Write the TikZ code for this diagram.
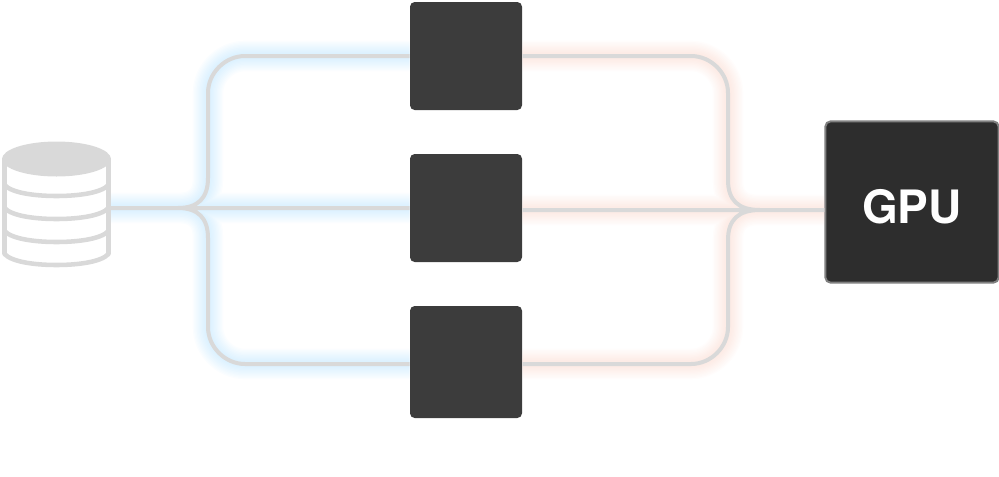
\documentclass[tikz,border=0pt]{standalone}
\usepackage{fontspec}
\setmainfont{TeX Gyre Heros}
\definecolor{linegrey}{HTML}{D9D9D9}
\definecolor{boxgrey}{HTML}{3C3C3C}
\definecolor{gpugrey}{HTML}{2D2D2D}
\definecolor{gpuedge}{HTML}{808080}
\definecolor{glowblue}{HTML}{8FD3FF}
\definecolor{glowred}{HTML}{F7B7A3}
\tikzset{
	workerbox/.style={fill=boxgrey,rounded corners=3.5pt,inner sep=0pt,minimum width=84pt},
	gpubox/.style={fill=gpugrey,draw=gpuedge,line width=1.5pt,rounded corners=4pt,inner sep=0pt,minimum width=130pt,minimum height=121pt},
	gputext/.style={text=white,font=\fontsize{34.5}{34.5}\selectfont\bfseries,inner sep=0pt},
	dbbox/.style={inner sep=0pt,minimum width=80pt,minimum height=92pt},
	wire/.style={draw=linegrey,line width=3pt},
	dbline/.style={draw=linegrey,line width=3.4pt,line join=round,line cap=round},
}
\newcommand{\leftwires}{(db.east) -- (mid.west)
	(178,208) .. controls (198,208) and (208,198) .. (208,178) -- (208,93) .. controls (208,73) and (225,56) .. (245,56) -- (top.west)
	(178,208) .. controls (198,208) and (208,218) .. (208,238) -- (208,327) .. controls (208,347) and (225,364) .. (245,364) -- (bot.west |- 0,364)}
\newcommand{\rightwires}{(mid.east |- 0,210) -- (gpu.west |- 0,210)
	(top.east) -- (691,56) .. controls (711,56) and (728,73) .. (728,93) -- (728,180) .. controls (728,200) and (738,210) .. (760,210)
	(bot.east |- 0,364) -- (691,364) .. controls (711,364) and (728,347) .. (728,327) -- (728,240) .. controls (728,220) and (738,210) .. (760,210)}
\begin{document}
\begin{tikzpicture}[x=.75pt,y=-.75pt]
	\useasboundingbox (0,0) rectangle (999,476);

	%left and middle nodes
	\node [dbbox] (db) at (56.5,208) {};
	\node [workerbox,minimum height=81pt] (top) at (466,56) {};
	\node [workerbox,minimum height=81pt] (mid) at (466,208) {};
	\node [workerbox,minimum height=84pt] (bot) at (466,362) {};

	%right node
	\node [gpubox] (gpu) at (912,202) {};
	\node [gputext] (gpulabel) at (912,207) {GPU};

	%glow under the wires
	\foreach \w in {5,7,...,23} {
		\draw [glowblue,line width=\w pt,opacity=.035] \leftwires;
		\draw [glowred,line width=\w pt,opacity=.03] \rightwires;
	}

	%wires
	\draw [wire] \leftwires;
	\draw [wire] \rightwires;

	%database
	\fill [linegrey] (56.5,159) ellipse [x radius=54.5,y radius=17.5];
	\draw [dbline] (4.5,159) -- (4.5,254) .. controls (12,262) and (35,265) .. (56.5,265) .. controls (78,265) and (101,262) .. (108.5,254) -- (108.5,159);
	\foreach \y in {185,208,231} {
		\draw [dbline] (4.5,\y) .. controls (12,\y+8) and (35,\y+11) .. (56.5,\y+11) .. controls (78,\y+11) and (101,\y+8) .. (108.5,\y);
	}
\end{tikzpicture}
\end{document}
